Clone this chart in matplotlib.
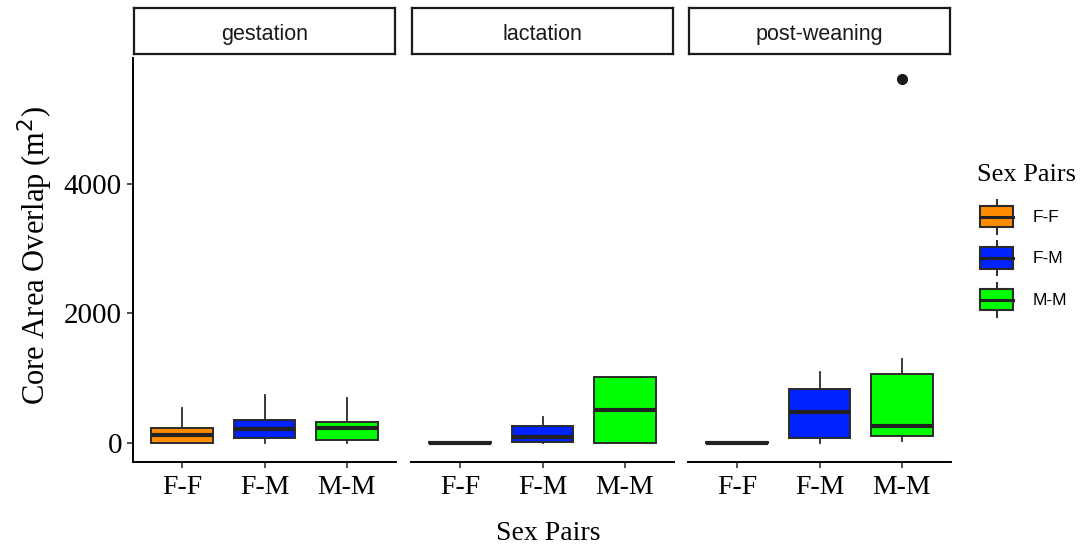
import matplotlib
matplotlib.use('Agg')
import matplotlib.pyplot as plt
from matplotlib.patches import Rectangle, Patch
from matplotlib.lines import Line2D
from matplotlib.legend_handler import HandlerBase

phases = ['gestation', 'lactation', 'post-weaning']
pairs = ['F-F', 'F-M', 'M-M']
colors = ['#FF8C00', '#0022FF', '#00FF00']

# box statistics, one row per phase (F-F, F-M, M-M)
q1 = [[0, 75, 50], [0, 10, 0], [0, 82, 108]]
med = [[119, 216, 225], [5, 98, 505], [5, 479, 257]]
q3 = [[226, 350, 330], [20, 262, 1014], [20, 829, 1070]]
whislo = [[0, 0, 0], [0, 0, 0], [0, 0, 31]]
whishi = [[539, 738, 695], [20, 397, 1014], [20, 1101, 1292]]
fliers = [[[], [], []], [[], [], []], [[], [], [5620]]]

SERIF = 'Liberation Serif'
SANS = 'Liberation Sans'
EDGE = '#2b2b2b'

W, H = 1082, 547
fig = plt.figure(figsize=(W / 100, H / 100), dpi=100)

panel_left = [133, 411, 688]
panel_w = 263
p_top, p_bot = 58, 462
s_top, s_bot = 8, 54

KEY_W = 23.5  # points


class BoxKey(HandlerBase):
    # boxplot glyph for the legend: whisker, box, median line
    def create_artists(self, legend, orig_handle, xdescent, ydescent,
                       width, height, fontsize, trans):
        fc = orig_handle.get_facecolor()
        x1, y0 = -xdescent + width, -ydescent
        x0 = x1 - KEY_W
        cx = (x0 + x1) / 2
        whisk = Line2D([cx, cx], [y0, y0 + height], color=EDGE, lw=1.4,
                       transform=trans)
        box = Rectangle((x0, y0 + height * 0.185), KEY_W, height * 0.63,
                        facecolor=fc, edgecolor=EDGE, lw=1.5, transform=trans)
        mid = Line2D([x0, x1], [y0 + height / 2] * 2, color='#222222',
                     lw=2.2, transform=trans)
        return [whisk, box, mid]


for i, ph in enumerate(phases):
    ax = fig.add_axes([panel_left[i] / W, 1 - p_bot / H, panel_w / W, (p_bot - p_top) / H])
    stats = []
    for j in range(3):
        stats.append(dict(med=med[i][j], q1=q1[i][j], q3=q3[i][j],
                          whislo=whislo[i][j], whishi=whishi[i][j], fliers=fliers[i][j]))
    bp = ax.bxp(stats, positions=[0, 1, 2], widths=0.75, patch_artist=True, showcaps=False,
                boxprops=dict(edgecolor=EDGE, lw=1.4),
                medianprops=dict(color='#222222', lw=3, solid_capstyle='butt'),
                whiskerprops=dict(color=EDGE, lw=1.3),
                flierprops=dict(marker='o', markerfacecolor='#1a1a1a',
                                markeredgecolor='#1a1a1a', markersize=7))
    for b, c in zip(bp['boxes'], colors):
        b.set_facecolor(c)
    ax.set_xlim(-0.6, 2.6)
    ax.set_ylim(-293, 5944)
    ax.set_xticks([0, 1, 2])
    ax.set_xticklabels(pairs, fontfamily=SERIF, fontsize=20)
    ax.set_yticks([0, 2000, 4000])
    ax.set_yticklabels(['0', '2000', '4000'], fontfamily=SERIF, fontsize=21)
    for s in ['top', 'right']:
        ax.spines[s].set_visible(False)
    ax.spines['bottom'].set_linewidth(1.4)
    ax.spines['left'].set_linewidth(1.4)
    ax.tick_params(axis='x', length=4, width=1.2, pad=5, colors='#333333', labelcolor='black')
    ax.tick_params(axis='y', length=4, width=1.2, pad=4, colors='#333333', labelcolor='black')
    if i > 0:
        ax.spines['left'].set_visible(False)
        ax.tick_params(axis='y', left=False, labelleft=False)

    # facet strip
    sax = fig.add_axes([(panel_left[i] + 1) / W, 1 - s_bot / H, (panel_w - 2) / W, (s_bot - s_top) / H])
    sax.set_xticks([])
    sax.set_yticks([])
    for s in sax.spines.values():
        s.set_linewidth(1.6)
        s.set_color('#1a1a1a')
    sax.text(0.5, 0.47, ph, ha='center', va='center_baseline', fontfamily=SANS, fontsize=15.5,
             color='#1a1a1a', transform=sax.transAxes)

fig.text(35 / W, 1 - 255 / H, 'Core Area Overlap (m$^2$)', rotation=90, ha='center',
         va='center', fontfamily=SERIF, fontsize=22)
fig.text(548 / W, 1 - 533 / H, 'Sex Pairs', ha='center', va='center',
         fontfamily=SERIF, fontsize=20)

# legend title as its own text, keys below it
fig.text(977 / W, 1 - 175 / H, 'Sex Pairs', ha='left', va='center',
         fontfamily=SERIF, fontsize=19)
handles = [Patch(facecolor=c) for c in colors]
leg = fig.legend(handles, pairs, handler_map={Patch: BoxKey()},
                 loc='upper left', bbox_to_anchor=(961 / W, 1 - 184 / H),
                 frameon=False, handlelength=2.1, handleheight=2.64, labelspacing=0.43,
                 handletextpad=1.15, prop=dict(family=SANS, size=12.5))

fig.savefig('out.png', dpi=100)
